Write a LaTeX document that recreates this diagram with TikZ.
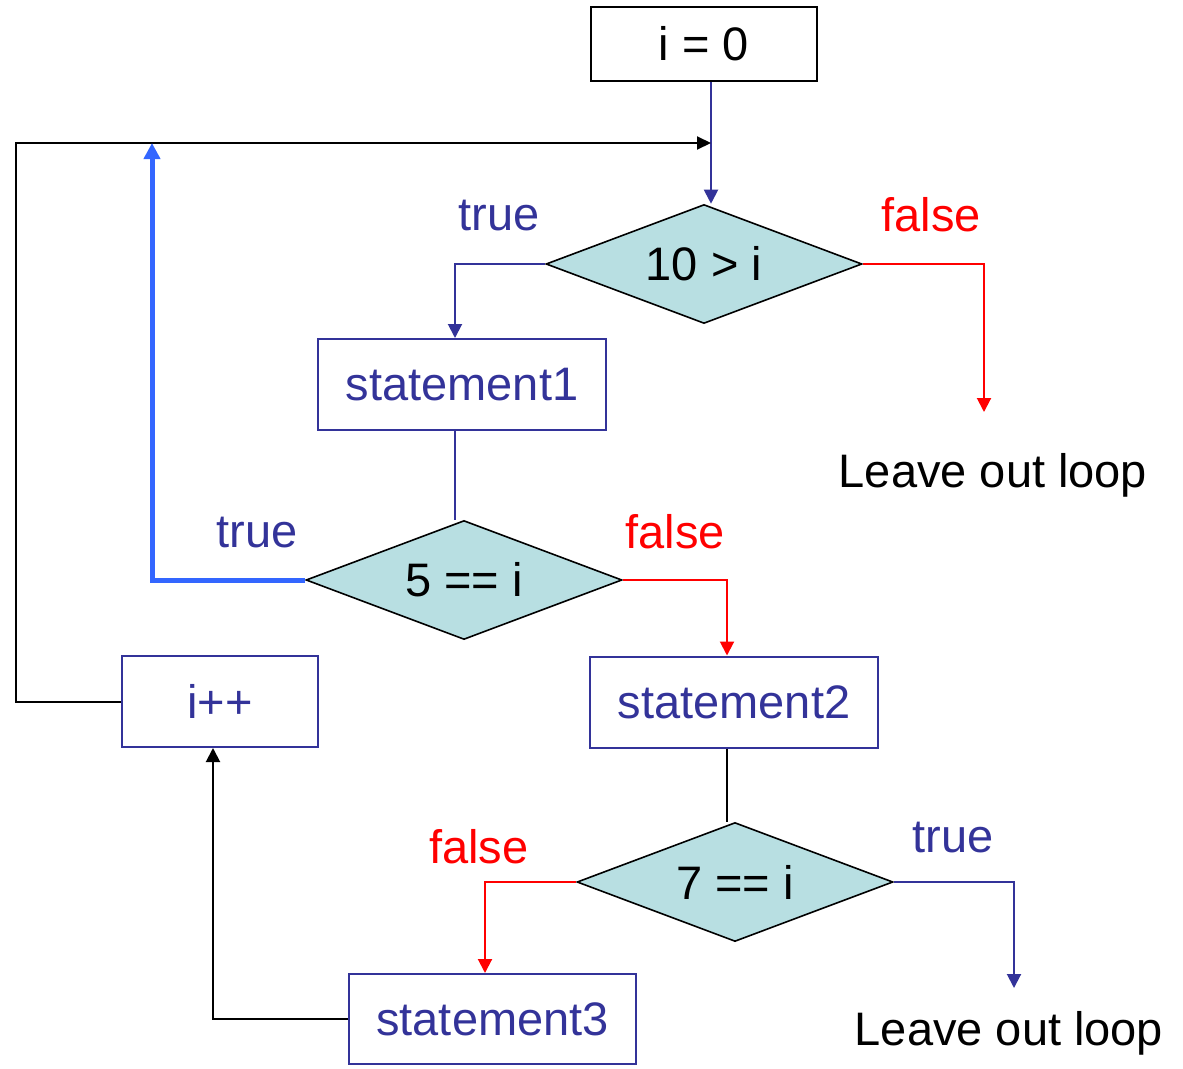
\documentclass[tikz,border=0pt]{standalone}
\usepackage{fontspec}
\setmainfont{Liberation Sans}
\usetikzlibrary{shapes.geometric, arrows.meta, positioning, calc}

\definecolor{navy}{HTML}{333399}
\definecolor{condfill}{HTML}{B8DFE2}
\definecolor{loopblue}{HTML}{3366FF}

\begin{document}
\begin{tikzpicture}[x=1pt, y=-1pt,
	font=\fontsize{47}{56}\selectfont,
	box/.style={draw=navy, line width=2pt, text=navy, minimum width=288pt, minimum height=91pt, inner sep=0pt},
	cond/.style={diamond, draw, line width=1.6pt, fill=condfill, aspect=2.7, inner sep=0pt, minimum width=316pt, minimum height=119pt},
	lbl/.style={anchor=base, inner sep=0pt},
	tip/.style={-{Triangle[length=14pt,width=14pt]}},
	navyline/.style={draw=navy, line width=2pt},
	redline/.style={draw=red, line width=2pt},
	blackline/.style={draw=black, line width=2pt}]
	\useasboundingbox (0,0) rectangle (1183,1068);
	% boxes and conditions
	\node[draw, line width=2pt, minimum width=226pt, minimum height=74pt, inner sep=0pt] at (704,44) (init) {i = 0};
	\node[cond] at (704,264) (c1) {10 > i};
	\node[box] at (462,384.5) (s1) {statement1};
	\node[cond] at (464,580) (c2) {5 == i};
	\node[box] at (734,702) (s2) {statement2};
	\node[cond] at (735,882) (c3) {7 == i};
	\node[box, minimum width=287pt, minimum height=90pt] at (492.5,1019) (s3) {statement3};
	\node[box, minimum width=196pt] at (220,701.5) (inc) {i++};
	% labels
	\node[lbl, text=navy] at (499,230) (t1) {true};
	\node[lbl, text=red] at (931,231) (f1) {false};
	\node[lbl, text=navy] at (257,547) (t2) {true};
	\node[lbl, text=red] at (675,548) (f2) {false};
	\node[lbl, text=red] at (479,863) (f3) {false};
	\node[lbl, text=navy] at (953,852) (t3) {true};
	\node[lbl] at (993,487) (out1) {Leave out loop};
	\node[lbl] at (1009,1045) (out2) {Leave out loop};
	% points
	\coordinate (join) at (711,143);
	\coordinate (lt) at (16,143);
	\coordinate (bk) at (152,143);
	\coordinate (end1) at (984,412);
	\coordinate (end2) at (1014,988);
	% connectors
	\draw[navyline, tip] (init.south -| join) -- (c1.north -| join);
	\draw[blackline, -{Triangle[length=14pt,width=13pt]}] (inc.west) -| (lt) -- (join);
	\draw[navyline, tip] (c1.west) -| ([xshift=-7pt]s1.north);
	\draw[navyline] ([xshift=-7pt]s1.south) -- ([xshift=-7pt]s1.south |- c2.north);
	\draw[redline, tip] (c1.east) -| (end1);
	\draw[loopblue, line width=5pt, -{Triangle[length=16pt,width=16pt]}] (c2.west) -| (bk);
	\draw[redline, tip] (c2.east) -| ([xshift=-7pt]s2.north);
	\draw[blackline] ([xshift=-7pt]s2.south) -- ([xshift=-7pt]s2.south |- c3.north);
	\draw[redline, tip] (c3.west) -| ([xshift=-7.5pt]s3.north);
	\draw[navyline, tip] (c3.east) -| (end2);
	\draw[blackline, tip] (s3.west) -| ([xshift=-7pt]inc.south);
\end{tikzpicture}
\end{document}
